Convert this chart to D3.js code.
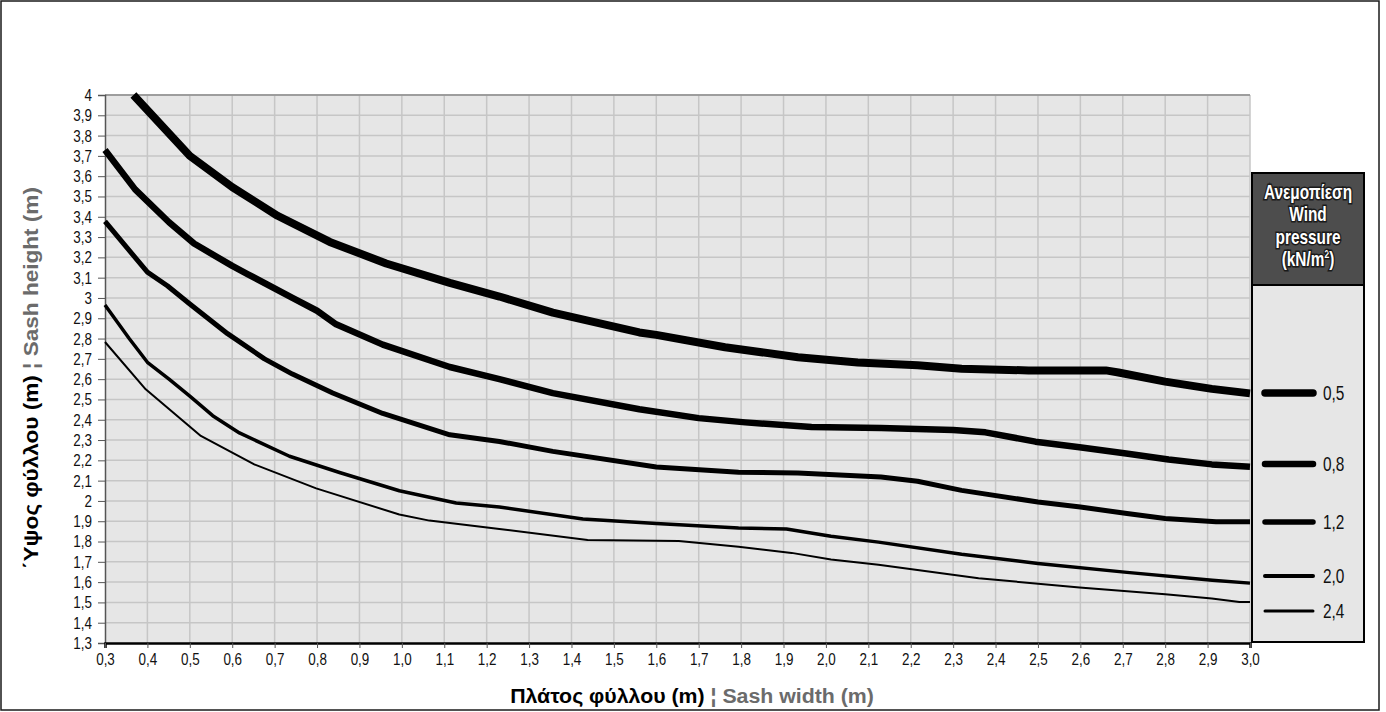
<!DOCTYPE html>
<html>
<head>
<meta charset="utf-8">
<script src="https://cdn.jsdelivr.net/npm/d3@7"></script>
<style>
  html, body { margin: 0; padding: 0; background: #fff; }
  svg text { font-family: "Liberation Sans", Arial, sans-serif; }
</style>
</head>
<body>
<div id="chart"></div>
<script>
// wind pressure classes (kN/m2)
const pressures = ["0,5", "0,8", "1,2", "2,0", "2,4"];

// [sash width, sash height]
const curve05 = [[0.367,4.0],[0.5,3.70],[0.6,3.546],[0.707,3.405],[0.83,3.276],[0.963,3.17],[1.113,3.074],[1.23,3.007],[1.356,2.928],[1.56,2.83],[1.6,2.818],[1.762,2.757],[1.934,2.708],[2.075,2.682],[2.216,2.669],[2.32,2.651],[2.478,2.643],[2.66,2.643],[2.69,2.633],[2.8,2.588],[2.91,2.552],[3.0,2.53]];
const curve08 = [[0.3,3.729],[0.371,3.535],[0.451,3.373],[0.51,3.268],[0.6,3.158],[0.636,3.118],[0.742,3.0],[0.80,2.937],[0.845,2.87],[0.955,2.77],[1.113,2.66],[1.23,2.60],[1.356,2.531],[1.56,2.452],[1.7,2.408],[1.81,2.387],[1.966,2.364],[2.13,2.359],[2.3,2.35],[2.376,2.338],[2.494,2.292],[2.598,2.264],[2.708,2.234],[2.808,2.204],[2.91,2.18],[3.0,2.168]];
const curve12 = [[0.3,3.377],[0.4,3.127],[0.447,3.06],[0.5,2.97],[0.589,2.824],[0.676,2.70],[0.742,2.625],[0.837,2.532],[0.955,2.431],[1.113,2.326],[1.23,2.293],[1.356,2.244],[1.6,2.167],[1.794,2.141],[1.934,2.138],[2.13,2.118],[2.216,2.097],[2.32,2.052],[2.5,1.995],[2.6,1.97],[2.71,1.938],[2.8,1.913],[2.92,1.897],[3.0,1.897]];
const curve20 = [[0.3,2.965],[0.357,2.80],[0.4,2.683],[0.451,2.60],[0.5,2.516],[0.554,2.42],[0.617,2.335],[0.735,2.22],[0.853,2.14],[0.994,2.05],[1.128,1.99],[1.23,1.97],[1.427,1.911],[1.6,1.889],[1.794,1.867],[1.907,1.862],[2.012,1.826],[2.124,1.797],[2.32,1.737],[2.5,1.692],[2.71,1.648],[2.911,1.609],[3.0,1.595]];
const curve24 = [[0.3,2.783],[0.396,2.55],[0.526,2.32],[0.652,2.18],[0.798,2.062],[0.994,1.933],[1.065,1.903],[1.23,1.862],[1.438,1.807],[1.653,1.802],[1.794,1.774],[1.919,1.744],[2.012,1.711],[2.124,1.685],[2.36,1.619],[2.598,1.574],[2.8,1.54],[2.91,1.519],[2.975,1.502],[3.0,1.502]];

const xTicks = d3.range(3, 31).map(d => d / 10);
const yTicks = d3.range(13, 41).map(d => d / 10);

const curves = [curve05, curve08, curve12, curve20, curve24];
const widths = [8, 6.5, 5, 3.5, 2];        // line weight per pressure class
const legendWidths = [7.5, 6.5, 5.5, 4, 3];
const legendY = [393, 464, 522, 576, 611];

const W = 1386, H = 712;
const margin = { top: 95, right: 136, bottom: 69, left: 105 };
const width = W - margin.left - margin.right;
const height = H - margin.top - margin.bottom;
const narrow = 0.79; // fake a condensed face

const svg = d3.select("#chart").append("svg")
    .attr("width", W)
    .attr("height", H);

// outer frame
svg.append("rect")
    .attr("x", 1).attr("y", 1)
    .attr("width", 1378).attr("height", 709)
    .attr("fill", "#fff")
    .attr("stroke", "#1a1a1a")
    .attr("stroke-width", 1.5);

const g = svg.append("g")
    .attr("transform", `translate(${margin.left},${margin.top})`);

const x = d3.scaleLinear().domain([0.3, 3.0]).range([0, width]);
const y = d3.scaleLinear().domain([1.3, 4.0]).range([height, 0]);

g.append("rect")
    .attr("width", width)
    .attr("height", height)
    .attr("fill", "#e6e6e6");

// grid
g.selectAll(".vgrid")
    .data(xTicks.slice(1))
    .enter().append("line")
    .attr("x1", d => x(d)).attr("x2", d => x(d))
    .attr("y1", 0).attr("y2", height)
    .attr("stroke", "#c6c6c6")
    .attr("stroke-width", 1.5);

g.selectAll(".hgrid")
    .data(yTicks.slice(1))
    .enter().append("line")
    .attr("x1", 0).attr("x2", width)
    .attr("y1", d => y(d)).attr("y2", d => y(d))
    .attr("stroke", "#c6c6c6")
    .attr("stroke-width", 1.5);

// top border of plot
g.append("line")
    .attr("x1", 0).attr("x2", width)
    .attr("y1", 0).attr("y2", 0)
    .attr("stroke", "#8c8c8c")
    .attr("stroke-width", 1.5);

const fmt = d => d3.format(".1f")(d).replace(".", ",");
const fmtY = d => (Math.abs(d - Math.round(d)) < 1e-9 ? String(Math.round(d)) : fmt(d));

// y axis
const yAxis = g.append("g")
    .call(d3.axisLeft(y).tickValues(yTicks).tickFormat(fmtY).tickSize(7).tickPadding(6));
yAxis.attr("font-family", null).attr("font-size", null);
yAxis.select(".domain").attr("stroke", "#555").attr("stroke-width", 1.5);
yAxis.selectAll(".tick line").attr("stroke", "#555");
yAxis.selectAll("text")
    .style("font-size", "17px")
    .attr("fill", "#111")
    .attr("x", -13 / narrow)
    .attr("transform", `scale(${narrow},1)`);

// x axis
const xAxis = g.append("g")
    .attr("transform", `translate(0,${height})`)
    .call(d3.axisBottom(x).tickValues(xTicks).tickFormat(fmt).tickSize(5).tickPadding(5));
xAxis.attr("font-family", null).attr("font-size", null);
xAxis.select(".domain").attr("stroke", "#000").attr("stroke-width", 2.5);
xAxis.selectAll(".tick line").attr("stroke", "#555");
xAxis.selectAll("text")
    .style("font-size", "17px")
    .attr("fill", "#111")
    .attr("transform", `scale(${narrow},1)`);

// curves
const line = d3.line()
    .x(d => x(d[0]))
    .y(d => y(d[1]));

g.selectAll(".curve")
    .data(curves)
    .enter().append("path")
    .attr("d", line)
    .attr("fill", "none")
    .attr("stroke", "#000")
    .attr("stroke-width", (d, i) => widths[i])
    .attr("stroke-linejoin", "round");

// legend
const lg = svg.append("g");
lg.append("rect")
    .attr("x", 1252).attr("y", 285)
    .attr("width", 112).attr("height", 357)
    .attr("fill", "#e6e6e6")
    .attr("stroke", "#000")
    .attr("stroke-width", 2);
lg.append("rect")
    .attr("x", 1252).attr("y", 173)
    .attr("width", 112).attr("height", 112)
    .attr("fill", "#4d4d4d")
    .attr("stroke", "#000")
    .attr("stroke-width", 2);

const head = lg.append("g")
    .attr("transform", `translate(1308,0) scale(${narrow},1)`)
    .append("text")
    .attr("text-anchor", "middle")
    .style("font-size", "19.5px")
    .attr("font-weight", "bold")
    .attr("fill", "#fff")
    .attr("stroke", "#1a1a1a")
    .attr("stroke-width", 3)
    .attr("paint-order", "stroke");
head.append("tspan").attr("x", 0).attr("y", 199).text("Ανεμοπίεση");
head.append("tspan").attr("x", 0).attr("y", 221).text("Wind");
head.append("tspan").attr("x", 0).attr("y", 244).text("pressure");
const last = head.append("tspan").attr("x", 0).attr("y", 266);
last.append("tspan").text("(kN/m");
last.append("tspan").style("font-size", "11px").attr("dy", -8).text("2");
last.append("tspan").attr("dy", 8).text(")");

const items = lg.selectAll(".item")
    .data(pressures)
    .enter().append("g");
items.append("line")
    .attr("x1", 1265).attr("x2", 1313)
    .attr("y1", (d, i) => legendY[i]).attr("y2", (d, i) => legendY[i])
    .attr("stroke", "#000")
    .attr("stroke-linecap", "round")
    .attr("stroke-width", (d, i) => legendWidths[i]);
items.append("g")
    .attr("transform", (d, i) => `translate(1323,${legendY[i] + 7}) scale(${narrow},1)`)
    .append("text")
    .style("font-size", "19.5px")
    .attr("fill", "#111")
    .text(d => d);

// axis titles, squeezed to the width they take in the picture
function title(parent, black, grey, target) {
    const t = parent.append("text")
        .attr("text-anchor", "middle")
        .style("font-size", "21px")
        .attr("font-weight", "bold");
    t.append("tspan").attr("fill", "#000").text(black);
    t.append("tspan").attr("fill", "#6b6b6b").text(" ¦ " + grey);
    const len = t.node().getComputedTextLength();
    t.attr("transform", `scale(${target / len},1)`);
}

title(svg.append("g").attr("transform", "translate(692,703)"),
    "Πλάτος φύλλου (m)", "Sash width (m)", 364);
title(svg.append("g").attr("transform", "translate(38,378) rotate(-90)"),
    "΄Υψος φύλλου (m)", "Sash height (m)", 382);
</script>
</body>
</html>
